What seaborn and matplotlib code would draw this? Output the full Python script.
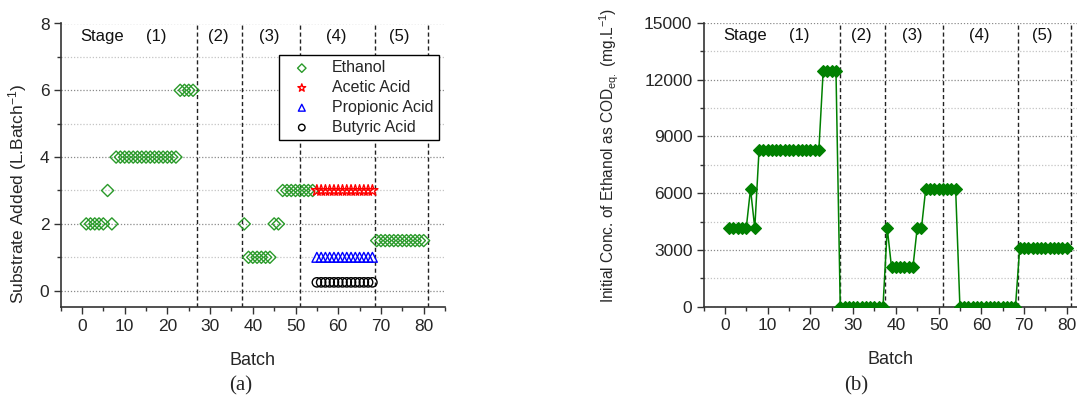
import numpy as np
import pandas as pd
import matplotlib
matplotlib.use("Agg")
import matplotlib.pyplot as plt
import matplotlib.transforms as mtransforms
from matplotlib.ticker import MultipleLocator
import seaborn as sns

# ---------------- data ----------------
# Panel (a): substrate added (L per batch)
eth_batch_a = [1, 2, 3, 4, 5, 6, 7,
               8, 9, 10, 11, 12, 13, 14, 15, 16, 17, 18, 19, 20, 21, 22,
               23, 24, 25, 26,
               38, 39, 40, 41, 42, 43, 44, 45, 46,
               47, 48, 49, 50, 51, 52, 53, 54,
               69, 70, 71, 72, 73, 74, 75, 76, 77, 78, 79, 80]
eth_value_a = [2, 2, 2, 2, 2, 3, 2,
               4, 4, 4, 4, 4, 4, 4, 4, 4, 4, 4, 4, 4, 4, 4,
               6, 6, 6, 6,
               2, 1, 1, 1, 1, 1, 1, 2, 2,
               3, 3, 3, 3, 3, 3, 3, 3,
               1.5, 1.5, 1.5, 1.5, 1.5, 1.5, 1.5, 1.5, 1.5, 1.5, 1.5, 1.5]
acid_batch = [55, 56, 57, 58, 59, 60, 61, 62, 63, 64, 65, 66, 67, 68]
acetic_value = [3] * 14
propionic_value = [1] * 14
butyric_value = [0.25] * 14

# Panel (b): initial ethanol concentration (mg/L COD eq.)
batch_b = list(range(1, 81))
conc_b = ([4150] * 5 + [6225] + [4150] + [8300] * 15 + [12450] * 4 +
          [0] * 11 +
          [4150] + [2075] * 6 + [4150] * 2 + [6225] * 8 +
          [0] * 14 +
          [3112] * 12)

stage_bounds = [27, 37.5, 51, 68.5, 81]
stage_labels = ["Stage", "(1)", "(2)", "(3)", "(4)", "(5)"]
stage_label_x = [4.7, 17.5, 32, 43.8, 59.5, 74.2]

# ---------------- style ----------------
sns.set_theme(style="white")
plt.rcParams['font.family'] = ['Liberation Sans', 'DejaVu Sans']
plt.rcParams['mathtext.fontset'] = 'custom'
plt.rcParams['mathtext.rm'] = 'Liberation Sans'
plt.rcParams['mathtext.it'] = 'Liberation Sans:italic'

fig = plt.figure(figsize=(10.77, 4.03), dpi=100)
W, H = 1077, 403

def add_axes_px(left, right, top, bottom):
    return fig.add_axes([left / W, 1 - bottom / H, (right - left) / W, (bottom - top) / H])

axA = add_axes_px(60.6, 445, 23.5, 307.4)
axB = add_axes_px(703.5, 1077, 23, 306.7)

def style_axis(ax):
    for side in ["top", "right"]:
        ax.spines[side].set_visible(False)
    for side in ["left", "bottom"]:
        ax.spines[side].set_color("#333333")
        ax.spines[side].set_linewidth(1.2)
    ax.tick_params(axis="both", which="major", direction="out", length=5, width=1,
                   color="#333333", labelsize=12.5, pad=3, left=True, bottom=True)
    ax.tick_params(axis="both", which="minor", direction="out", length=3, width=1,
                   color="#333333", left=True, bottom=True)
    ax.xaxis.set_major_locator(MultipleLocator(10))
    ax.xaxis.set_minor_locator(MultipleLocator(5))
    ax.grid(False)
    ax.set_axisbelow(True)

def add_grid_and_stages(ax, ymin, ymax, step, major_every):
    vals = np.arange(ymin, ymax + step / 2, step)
    for i, v in enumerate(vals):
        if i % major_every == 0:
            ax.axhline(v, color="#8a8a8a", lw=0.9, ls=(0, (1, 1.5)), zorder=0)
        else:
            ax.axhline(v, color="#c4c4c4", lw=0.9, ls=(0, (1, 1.5)), zorder=0)
    for xb in stage_bounds:
        ax.axvline(xb, color="#222222", lw=1.0, ls=(0, (3, 2)), zorder=1)
    trans = mtransforms.blended_transform_factory(ax.transData, ax.transAxes)
    for lab, xl in zip(stage_labels, stage_label_x):
        ax.text(xl, 0.955, lab, transform=trans, ha="center", va="center",
                fontsize=12, color="#111111")

# ---------------- panel (a) ----------------
style_axis(axA)
add_grid_and_stages(axA, 0, 8, 1, 2)
sns.scatterplot(x=eth_batch_a, y=eth_value_a, ax=axA, marker="D", color="#2a9a2a",
                edgecolor="#2a9a2a", label="Ethanol", s=38, linewidth=1.0,
                facecolor="none", zorder=3)
sns.scatterplot(x=acid_batch, y=acetic_value, ax=axA, marker="*", color="red",
                edgecolor="red", label="Acetic Acid", s=70, linewidth=1.0,
                facecolor="none", zorder=3)
sns.scatterplot(x=acid_batch, y=propionic_value, ax=axA, marker="^", color="blue",
                edgecolor="blue", label="Propionic Acid", s=50, linewidth=1.0,
                facecolor="none", zorder=3)
sns.scatterplot(x=acid_batch, y=butyric_value, ax=axA, marker="o", color="black",
                edgecolor="black", label="Butyric Acid", s=45, linewidth=1.0,
                facecolor="none", zorder=3)
axA.set_xlim(-5, 85)
axA.set_ylim(-0.5, 8)
axA.yaxis.set_major_locator(MultipleLocator(2))
axA.yaxis.set_minor_locator(MultipleLocator(1))
axA.set_xlabel("Batch", fontsize=13, labelpad=13)
axA.set_ylabel("Substrate Added (L.Batch$^{-1}$)", fontsize=12.5)
axA.yaxis.set_label_coords(-0.083, 0.40)
leg = axA.legend(loc="upper right", bbox_to_anchor=(0.985, 0.89), fontsize=11.5,
                 frameon=True, fancybox=False, framealpha=1, edgecolor="black",
                 borderpad=0.35, labelspacing=0.3, handletextpad=0.8,
                 handlelength=2.2, borderaxespad=0, markerscale=0.7)
leg.get_frame().set_linewidth(1.0)

# ---------------- panel (b) ----------------
style_axis(axB)
add_grid_and_stages(axB, 0, 15000, 1500, 2)
sns.lineplot(x=batch_b, y=conc_b, ax=axB, color="#008000", marker="D",
             markersize=6.5, markeredgecolor="#008000", markeredgewidth=0.8,
             linewidth=1.1, zorder=3)
axB.set_xlim(-5, 82.4)
axB.set_ylim(0, 15000)
axB.yaxis.set_major_locator(MultipleLocator(3000))
axB.yaxis.set_minor_locator(MultipleLocator(1500))
axB.set_xlabel("Batch", fontsize=13, labelpad=13)
axB.set_ylabel("Initial Conc. of Ethanol as COD$_{\\mathrm{eq.}}$ (mg.L$^{-1}$)",
               fontsize=11.2)
axB.yaxis.set_label_coords(-0.222, 0.535)

# panel captions
fig.text(241 / W, 1 - 386 / H, "(a)", fontsize=15, family=["Liberation Serif", "DejaVu Serif"],
         ha="center", va="center")
fig.text(856 / W, 1 - 386 / H, "(b)", fontsize=15, family=["Liberation Serif", "DejaVu Serif"],
         ha="center", va="center")

fig.savefig("out.png", dpi=100)
